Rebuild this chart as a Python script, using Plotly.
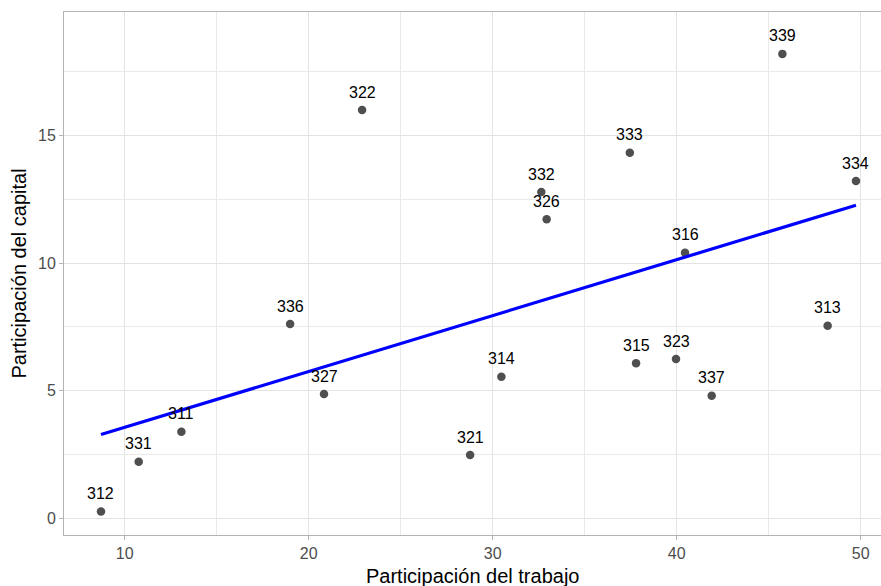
import numpy as np
import plotly.graph_objects as go

labels = ["312", "331", "311", "336", "327", "322", "321", "314", "332", "326",
          "333", "315", "323", "316", "337", "339", "313", "334"]
trabajo = [8.71, 10.76, 13.08, 18.99, 20.83, 22.90, 28.77, 30.47, 32.64, 32.93,
           37.45, 37.79, 39.96, 40.45, 41.90, 45.74, 48.20, 49.74]
capital = [0.27, 2.22, 3.39, 7.61, 4.87, 15.99, 2.48, 5.55, 12.78, 11.71,
           14.32, 6.08, 6.24, 10.40, 4.80, 18.19, 7.54, 13.21]

x_ticks = [10, 20, 30, 40, 50]
y_ticks = [0, 5, 10, 15]
x_title = "Participación del trabajo"
y_title = "Participación del capital"

# linear fit (geom_smooth method = "lm")
slope, intercept = np.polyfit(trabajo, capital, 1)
fit_x = [min(trabajo), max(trabajo)]
fit_y = [intercept + slope * v for v in fit_x]

FONT = "Liberation Sans, Arial"

fig = go.Figure()
fig.add_trace(go.Scatter(
    x=trabajo, y=capital, mode="markers",
    marker=dict(color="#4f4f4f", size=8.5),
    hoverinfo="skip", showlegend=False))
fig.add_trace(go.Scatter(
    x=fit_x, y=fit_y, mode="lines",
    line=dict(color="#0000ff", width=3.2),
    hoverinfo="skip", showlegend=False))

for lab, xv, yv in zip(labels, trabajo, capital):
    fig.add_annotation(x=xv, y=yv, text=lab, showarrow=False, yshift=18,
                       font=dict(family=FONT, size=16, color="#000000"))

fig.add_annotation(x=0.5, y=0, xref="paper", yref="paper", text=x_title,
                   showarrow=False, yanchor="middle", yshift=-41,
                   font=dict(family=FONT, size=20, color="#000000"))
fig.add_annotation(x=0, y=0.5, xref="paper", yref="paper", text=y_title,
                   showarrow=False, xanchor="center", xshift=-46, textangle=-90,
                   font=dict(family=FONT, size=20, color="#000000"))

axis_common = dict(
    showline=True, linecolor="#b3b3b3", linewidth=1,
    ticks="outside", ticklen=4, tickcolor="#b3b3b3", tickwidth=1,
    showgrid=True, gridcolor="#e3e3e3", gridwidth=1,
    zeroline=False, automargin=False,
    tickfont=dict(family=FONT, size=16, color="#4d4d4d"),
)

fig.update_xaxes(
    range=[6.70, 51.1], tickvals=x_ticks, ticktext=[str(v) for v in x_ticks],
    mirror=True,
    minor=dict(showgrid=True, gridcolor="#eaeaea", gridwidth=1, tickvals=[5, 15, 25, 35, 45]),
    **axis_common)
fig.update_yaxes(
    range=[-0.65, 19.83], tickvals=y_ticks, ticktext=[str(v) for v in y_ticks],
    mirror=False,
    minor=dict(showgrid=True, gridcolor="#eaeaea", gridwidth=1, tickvals=[2.5, 7.5, 12.5, 17.5]),
    **axis_common)

fig.update_layout(
    width=881, height=586,
    margin=dict(l=64, r=0, t=12, b=51),
    plot_bgcolor="#ffffff", paper_bgcolor="#ffffff",
    showlegend=False,
)

fig.write_html("out.html",
               config={"displayModeBar": False, "staticPlot": True},
               post_script="document.body.style.margin='0';document.body.style.overflow='hidden';")
